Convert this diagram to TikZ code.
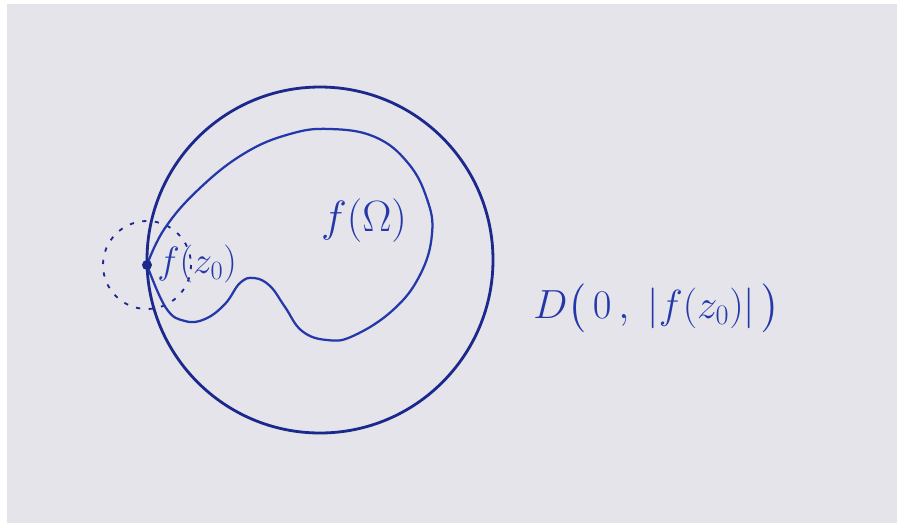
\documentclass[tikz,border=0pt]{standalone}
\usepackage{amsmath}
\definecolor{paper}{RGB}{228,228,234}
\definecolor{ink}{RGB}{28,40,140}
\definecolor{inklight}{RGB}{36,56,170}
\tikzset{
  disk/.style={ink, line width=2pt},
  blob/.style={inklight, line width=1.6pt},
  handlabel/.style={inklight, font=\fontsize{24}{28}\selectfont, inner sep=0pt, scale=1.25, transform shape}
}
\begin{document}
\begin{tikzpicture}[x=0.025cm, y=-0.025cm]
        % Paper
        \useasboundingbox (0,0) rectangle (904,529);
        \fill[white] (0,0) rectangle (904,529);
        \fill[paper] (7,4) rectangle (897,523);

        \coordinate (O) at (320,260);
        \coordinate (fz0) at (147,265);

        % Disque D(0,|f(z0)|)
        \draw[disk] (O) circle (173);

        % Petit disque pointille autour de f(z0)
        \draw[ink, line width=1.3pt, dash pattern=on 3pt off 6pt] (fz0) circle (44);

        % Image f(Omega)
        \draw[blob] plot[smooth, tension=0.7] coordinates {
            (fz0) (165,228) (200,188) (245,153) (290,134) (330,129)
            (375,137) (408,163) (427,199) (432,234) (420,275) (393,310)
            (353,336) (327,340) (302,331) (285,307) (270,286) (254,278)
            (240,283) (225,304) (205,319) (185,321) (166,308) (fz0)};

        % Point
        \fill[ink] (fz0) circle (5);

        % Labels
        \node[handlabel] (lOmega) at (364,221) {$f(\Omega)$};
        \node[handlabel, scale=0.87, anchor=west] (lfz0) at (157,264) {$f(z_0)$};
        \node[handlabel, scale=0.93, anchor=west] (lD) at (533,308) {$D\big(\,0\,,\;|f(z_0)|\,\big)$};
\end{tikzpicture}
\end{document}
